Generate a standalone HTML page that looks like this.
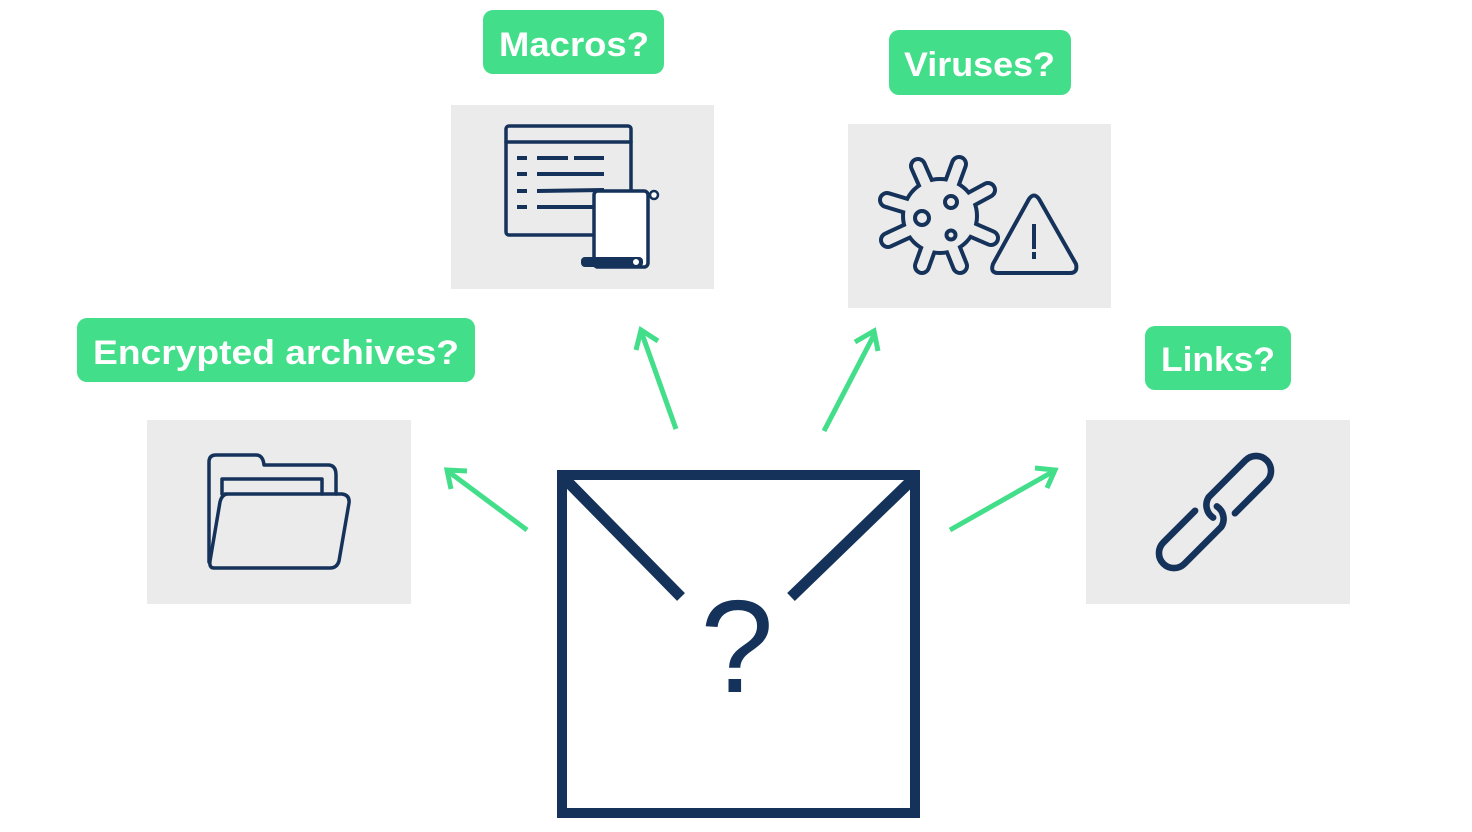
<!DOCTYPE html>
<html><head><style>
html,body{margin:0;padding:0;background:#fff;width:1472px;height:832px;overflow:hidden}
svg{display:block}
text{font-family:"Liberation Sans",sans-serif;font-weight:bold;fill:#fff}
</style></head><body>
<svg width="1472" height="832" viewBox="0 0 1472 832" xmlns="http://www.w3.org/2000/svg">
<rect x="451" y="105" width="263" height="184" fill="#ebebeb"/>
<rect x="848" y="124" width="263" height="184" fill="#ebebeb"/>
<rect x="147" y="420" width="264" height="184" fill="#ebebeb"/>
<rect x="1086" y="420" width="264" height="184" fill="#ebebeb"/>
<rect x="483" y="10" width="181" height="64" rx="10" fill="#43de8a"/>
<text x="499" y="56" font-size="34" textLength="150" lengthAdjust="spacingAndGlyphs">Macros?</text>
<rect x="889" y="30" width="182" height="65" rx="10" fill="#43de8a"/>
<text x="904" y="76" font-size="34" textLength="151" lengthAdjust="spacingAndGlyphs">Viruses?</text>
<rect x="77" y="318" width="398" height="64" rx="10" fill="#43de8a"/>
<text x="93" y="364" font-size="34" textLength="366" lengthAdjust="spacingAndGlyphs">Encrypted archives?</text>
<rect x="1145" y="326" width="146" height="64" rx="10" fill="#43de8a"/>
<text x="1161" y="371" font-size="34" textLength="114" lengthAdjust="spacingAndGlyphs">Links?</text>
<g stroke="#43de8a" stroke-width="5" fill="none" stroke-linecap="butt" stroke-linejoin="miter">
<line x1="527" y1="530" x2="449" y2="472"/><polyline points="451,489 447,470 467,471"/>
<line x1="676" y1="429" x2="641" y2="331"/><polyline points="636,350 641,330 658,341"/>
<line x1="824" y1="431" x2="875" y2="333"/><polyline points="855,342 874,331 878,351"/>
<line x1="950" y1="530" x2="1054" y2="471"/><polyline points="1035,468 1055,470 1047,488"/>
</g>
<g fill="none" stroke="#15335a">
<rect x="562" y="475" width="353" height="338" stroke-width="10"/>
<line x1="566" y1="480" x2="681" y2="597" stroke-width="11"/>
<line x1="912" y1="480" x2="791" y2="597" stroke-width="11"/>
</g>
<text x="737" y="692" font-size="132" text-anchor="middle" style="font-weight:normal;fill:#15335a">?</text>
<g fill="none" stroke="#15335a" stroke-width="3.5" stroke-linecap="round" stroke-linejoin="round">
<rect x="506" y="126" width="125" height="109" rx="3"/>
<line x1="506" y1="142" x2="631" y2="142"/>
</g>
<g stroke="#15335a" stroke-width="4">
<line x1="517" y1="158" x2="527" y2="158"/><line x1="537" y1="158" x2="568" y2="158"/><line x1="574" y1="158" x2="604" y2="158"/>
<line x1="517" y1="174" x2="527" y2="174"/><line x1="537" y1="174" x2="604" y2="174"/>
<line x1="517" y1="191" x2="527" y2="191"/><line x1="537" y1="191" x2="604" y2="190"/>
<line x1="517" y1="207" x2="527" y2="207"/><line x1="537" y1="207" x2="594" y2="207"/>
</g>
<rect x="594" y="191" width="54" height="76" rx="4" fill="#fff" stroke="#15335a" stroke-width="3.5"/>
<rect x="581" y="257" width="62" height="10" rx="4" fill="#15335a"/>
<circle cx="636" cy="262" r="4" fill="#fff" stroke="#15335a" stroke-width="2"/>
<circle cx="654" cy="195" r="4" fill="#fff" stroke="#15335a" stroke-width="2.5"/>
<g stroke="#15335a" stroke-linecap="round" fill="none" stroke-width="18">
<path d="M940 216 L918 166 M940 216 L959 164 M940 216 L988 190 M940 216 L991 238 M940 216 L960 266 M940 216 L922 266 M940 216 L888 240 M940 216 L887 200"/>
</g>
<circle cx="940" cy="216" r="39" fill="#15335a"/>
<g stroke="#ebebeb" stroke-linecap="round" fill="none" stroke-width="10">
<path d="M940 216 L918 166 M940 216 L959 164 M940 216 L988 190 M940 216 L991 238 M940 216 L960 266 M940 216 L922 266 M940 216 L888 240 M940 216 L887 200"/>
</g>
<circle cx="940" cy="216" r="35" fill="#ebebeb"/>
<g fill="none" stroke="#15335a" stroke-width="4" stroke-linecap="round" stroke-linejoin="round">
<circle cx="922" cy="218" r="7"/><circle cx="951" cy="202" r="6"/><circle cx="951" cy="235" r="4.5"/>
<path d="M1029 199 Q1034 192 1039 199 L1076 264 Q1078 273 1070 273 L998 273 Q990 273 993 264 Z"/>
</g>
<line x1="1034" y1="224" x2="1034" y2="249" stroke="#15335a" stroke-width="4"/>
<line x1="1034" y1="252" x2="1034" y2="259" stroke="#15335a" stroke-width="4"/>
<g fill="none" stroke="#15335a" stroke-width="3.5" stroke-linecap="round" stroke-linejoin="round">
<path d="M209 562 L209 462 Q209 455 216 455 L256 455 Q263 455 264 465 L328 465 Q336 465 336 475 L336 494"/>
<path d="M222 494 L222 479 L322 479 L322 494"/>
<path d="M225 494 L342 494 Q350 495 349 503 L339 561 Q337 568 330 568 L214 568 Q209 568 210 561 L220 502 Q222 494 228 494 Z"/>
</g>
<g fill="none" stroke="#15335a" stroke-width="7.5" stroke-linecap="round" transform="translate(1215,512) rotate(-45) scale(0.88)">
<path d="M15 17 L66 17 A17 17 0 0 0 66 -17 L7 -17 A17 17 0 0 0 -6 3"/>
<path d="M-15 -17 L-66 -17 A17 17 0 0 0 -66 17 L-7 17 A17 17 0 0 0 6 -3"/>
</g>
</svg>
</body></html>
